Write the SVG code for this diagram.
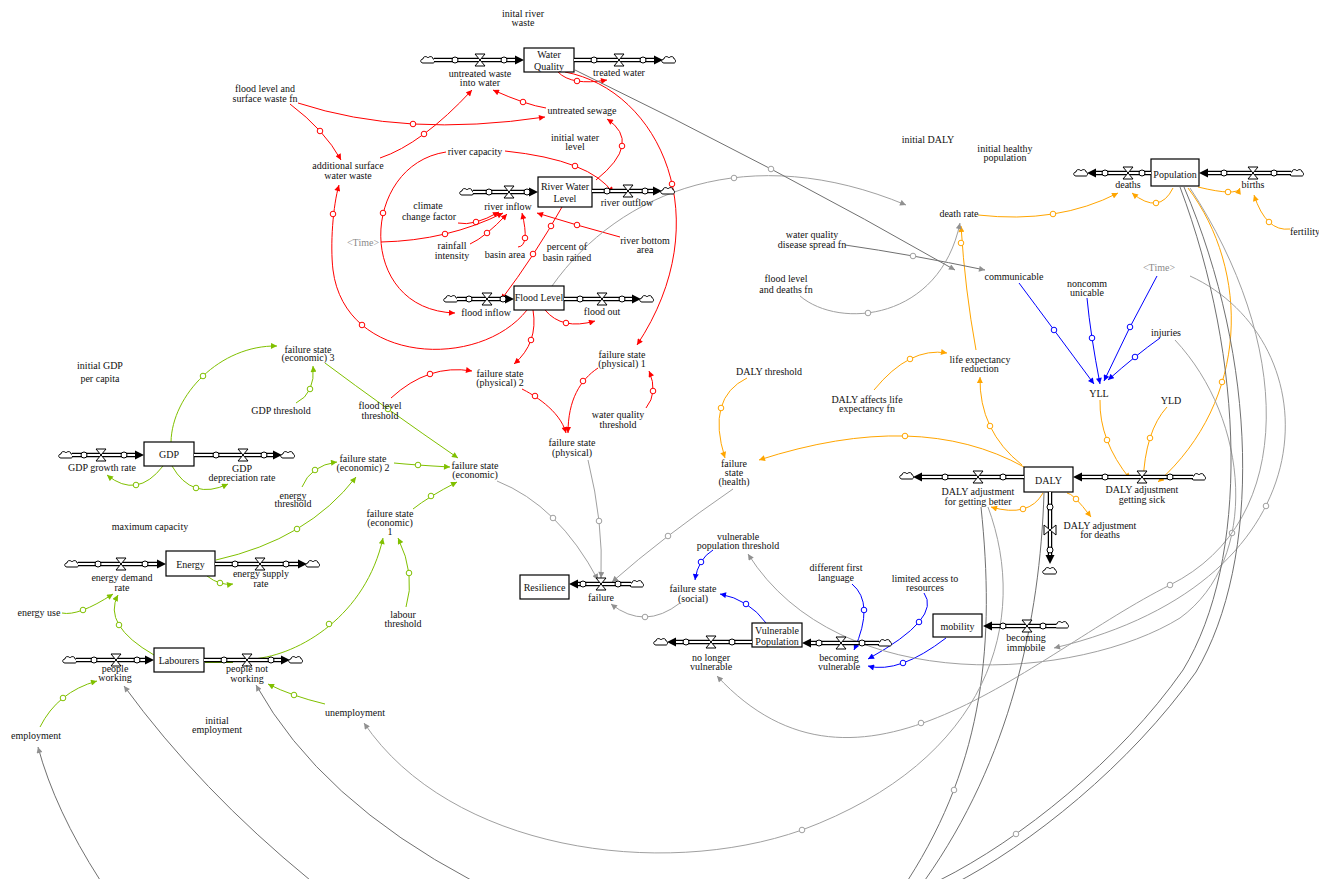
<svg xmlns="http://www.w3.org/2000/svg" width="1319" height="879" viewBox="0 0 1319 879">
<defs>
<style>
text{font-family:"Liberation Serif","Times New Roman",serif;font-size:10px;fill:#111;text-anchor:middle}
.tm{fill:#8a8a8a}
.st{fill:#fff;stroke:#000;stroke-width:1.2}
.po{fill:none;stroke:#000;stroke-width:4.5}
.pi{fill:none;stroke:#fff;stroke-width:2}
.fc{fill:#fff;stroke:#000;stroke-width:1}
.vl{fill:#fff;stroke:#000;stroke-width:1}
.cl{fill:#fff;stroke:#000;stroke-width:1}
.ah{fill:#000}
.lr,.lg,.lo,.lb,.lk,.ld,.ln{fill:none;stroke-width:1}
.lr{stroke:#f00;marker-end:url(#mr)}
.lg{stroke:#80c000;marker-end:url(#mg)}
.lo{stroke:#ffa500;marker-end:url(#mo)}
.lb{stroke:#0000ff;marker-end:url(#mb)}
.lk{stroke:#a0a0a0;marker-end:url(#mk)}
.ld{stroke:#707070;marker-end:url(#mk)}
.ln{stroke:#707070}
.connectors circle{fill:#fff;stroke-width:1}
.cr{stroke:#f00}.cg{stroke:#80c000}.co{stroke:#ffa500}.cb{stroke:#0000ff}.ck{stroke:#a0a0a0}
</style>
<marker id="mr" viewBox="0 0 10 10" refX="10" refY="5" markerWidth="7" markerHeight="6" markerUnits="userSpaceOnUse" orient="auto"><path d="M0,0L10,5L0,10z" fill="#f00"/></marker>
<marker id="mg" viewBox="0 0 10 10" refX="10" refY="5" markerWidth="7" markerHeight="6" markerUnits="userSpaceOnUse" orient="auto"><path d="M0,0L10,5L0,10z" fill="#80c000"/></marker>
<marker id="mo" viewBox="0 0 10 10" refX="10" refY="5" markerWidth="7" markerHeight="6" markerUnits="userSpaceOnUse" orient="auto"><path d="M0,0L10,5L0,10z" fill="#ffa500"/></marker>
<marker id="mb" viewBox="0 0 10 10" refX="10" refY="5" markerWidth="7" markerHeight="6" markerUnits="userSpaceOnUse" orient="auto"><path d="M0,0L10,5L0,10z" fill="#0000ff"/></marker>
<marker id="mk" viewBox="0 0 10 10" refX="10" refY="5" markerWidth="7" markerHeight="6" markerUnits="userSpaceOnUse" orient="auto"><path d="M0,0L10,5L0,10z" fill="#909090"/></marker>
<path id="cl" class="cl" d="M-5,3C-8,3 -8,-1 -5,-1C-5,-4 -1,-4 0,-2C1,-4 5,-4 5,-1C7,-1 7,3 5,3Z"/>
<path id="v" class="vl" d="M-5,-6H5L-5,6H5Z"/>
<path id="aR" class="ah" d="M0,0L-9,-4.5L-9,4.5Z"/>
<path id="aL" class="ah" d="M0,0L9,-4.5L9,4.5Z"/>
<path id="aD" class="ah" d="M0,0L-4.5,-9L4.5,-9Z"/>
</defs>
<rect width="1319" height="879" fill="#fff"/>

<g id="connectors" class="connectors">
<!-- red -->
<path class="lr" d="M290,104Q324.5,130 341,160"/><circle class="cr" cx="320" cy="131" r="2.8"/>
<path class="lr" d="M298,103Q404.5,138 545,117"/><circle class="cr" cx="413" cy="124" r="2.8"/>
<path class="lr" d="M380,158Q422,144 472,90"/><circle class="cr" cx="424" cy="134" r="2.8"/>
<path class="lr" d="M546,108Q526.5,105 493,90"/><circle class="cr" cx="523" cy="102" r="2.8"/>
<path class="lr" d="M558,72Q571.5,86 607,80"/><circle class="cr" cx="577" cy="81" r="2.8"/>
<path class="lr" d="M596,180Q642.5,142.5 607,119"/><circle class="cr" cx="622" cy="146" r="2.8"/>
<path class="lr" d="M565,72C660,90 720,220 637,345"/><circle class="cr" cx="672" cy="184" r="2.8"/>
<path class="lr" d="M505,151Q591,160 613,193"/><circle class="cr" cx="575" cy="166" r="2.8"/>
<path class="lr" d="M446,152C360,165 355,310 455,313"/><circle class="cr" cx="383" cy="213" r="2.8"/>
<path class="lr" d="M527,310C480,370 345,365 333,270C330,245 333,205 339,185"/><circle class="cr" cx="362" cy="325" r="2.8"/><circle class="cr" cx="333" cy="214" r="2.8"/>
<path class="lr" d="M458,223Q473.5,226.5 499,212"/><circle class="cr" cx="476" cy="222" r="2.8"/>
<path class="lr" d="M381,242Q448,240.5 503,213"/><circle class="cr" cx="445" cy="234" r="2.8"/>
<path class="lr" d="M470,244Q485.5,237 507,214"/><circle class="cr" cx="487" cy="233" r="2.8"/>
<path class="lr" d="M518,247Q530,246 522,213"/><circle class="cr" cx="525" cy="238" r="2.8"/>
<path class="lr" d="M620,237Q575.5,225 537,213"/><circle class="cr" cx="577" cy="225" r="2.8"/>
<path class="lr" d="M562,207Q535,255 501,300"/><circle class="cr" cx="551" cy="226" r="2.8"/><circle class="cr" cx="533" cy="254" r="2.8"/>
<path class="lr" d="M545,310Q562,330.5 595,321"/><circle class="cr" cx="566" cy="323" r="2.8"/>
<path class="lr" d="M533,310Q538.5,343 514,364"/><circle class="cr" cx="531" cy="340" r="2.8"/>
<path class="lr" d="M391,398Q428.5,363.5 472,371"/><circle class="cr" cx="430" cy="374" r="2.8"/>
<path class="lr" d="M646,408Q658.5,392.5 649,371"/><circle class="cr" cx="653" cy="391" r="2.8"/>
<path class="lr" d="M598,368C580,380 568,400 568,433"/><circle class="cr" cx="583" cy="381" r="2.8"/>
<path class="lr" d="M522,389C532,394 560,410 566,433"/><circle class="cr" cx="535" cy="396" r="2.8"/>
<!-- green -->
<path class="lg" d="M171,442C172,395 220,345 277,346"/><circle class="cg" cx="203" cy="376" r="2.8"/>
<path class="lg" d="M296,403Q315.5,393.5 313,366"/><circle class="cg" cx="310" cy="389" r="2.8"/>
<path class="lg" d="M325,363Q384.5,407.5 458,458"/><circle class="cg" cx="388" cy="409" r="2.8"/>
<path class="lg" d="M394,463Q414,465 450,467"/><circle class="cg" cx="418" cy="465" r="2.8"/>
<path class="lg" d="M302,487Q310.5,465.5 337,462"/><circle class="cg" cx="315" cy="470" r="2.8"/>
<path class="lg" d="M216,560Q308,539.5 356,477"/><circle class="cg" cx="297" cy="529" r="2.8"/>
<path class="lg" d="M413,509Q428,497 457,482"/><circle class="cg" cx="431" cy="496" r="2.8"/>
<path class="lg" d="M163,466Q137,499.5 107,475"/><circle class="cg" cx="136" cy="485" r="2.8"/>
<path class="lg" d="M172,466Q192,501 228,484"/><circle class="cg" cx="196" cy="488" r="2.8"/>
<path class="lg" d="M207,576Q220,586 233,584"/><circle class="cg" cx="220" cy="583" r="2.8"/>
<path class="lg" d="M62,613Q78.5,616.5 113,594"/><circle class="cg" cx="83" cy="610" r="2.8"/>
<path class="lg" d="M154,655Q102,625 118,595"/><circle class="cg" cx="119" cy="625" r="2.8"/>
<path class="lg" d="M406,607Q416,575 398,538"/><circle class="cg" cx="409" cy="573" r="2.8"/>
<path class="lg" d="M253,659C300,655 366,615 383,538"/><circle class="cg" cx="329" cy="624" r="2.8"/>
<path class="lg" d="M40,727Q57.5,692 97,681"/><circle class="cg" cx="63" cy="698" r="2.8"/>
<path class="lg" d="M325,704Q291.5,696 268,684"/><circle class="cg" cx="294" cy="695" r="2.8"/>
<path d="M205,662H233" stroke="#5f9400" stroke-width="2" fill="none"/>
<!-- orange -->
<path class="lo" d="M747,378Q706,398 725,458"/><circle class="co" cx="721" cy="408" r="2.8"/>
<path class="lo" d="M1024,467Q918.5,408.5 759,460"/><circle class="co" cx="905" cy="436" r="2.8"/>
<path class="lo" d="M1022,465Q979,431 980,377"/><circle class="co" cx="990" cy="426" r="2.8"/>
<path class="lo" d="M874,390Q909.5,346.5 947,353"/><circle class="co" cx="910" cy="359" r="2.8"/>
<path class="lo" d="M976,350Q965,290 961,226"/><circle class="co" cx="961" cy="243" r="2.8"/>
<path class="lo" d="M978,215Q1058,224 1118,193"/><circle class="co" cx="1053" cy="214" r="2.8"/>
<path class="lo" d="M1173,188Q1159.5,215.5 1132,193"/><circle class="co" cx="1156" cy="203" r="2.8"/>
<path class="lo" d="M1198,187Q1237,196.5 1240,188"/><circle class="co" cx="1228" cy="192" r="2.8"/>
<path class="lo" d="M1290,229Q1266,232 1254,195"/><circle class="co" cx="1269" cy="222" r="2.8"/>
<path class="lo" d="M1100,400Q1099,440.5 1130,479"/><circle class="co" cx="1107" cy="440" r="2.8"/>
<path class="lo" d="M1167,407Q1145,431 1143,483"/><circle class="co" cx="1150" cy="438" r="2.8"/>
<path class="lo" d="M1188,188C1250,270 1250,400 1158,482"/><circle class="co" cx="1222" cy="382" r="2.8"/>
<path class="lo" d="M1043,493Q1029,518 991,507"/><circle class="co" cx="1023" cy="509" r="2.8"/>
<path class="lo" d="M1067,493Q1073,493 1091,517"/><circle class="co" cx="1076" cy="499" r="2.8"/>
<!-- blue -->
<path class="lb" d="M1019,283Q1051.5,326.5 1094,384"/><circle class="cb" cx="1054" cy="330" r="2.8"/>
<path class="lb" d="M1087,298Q1090.5,335 1100,384"/><circle class="cb" cx="1092" cy="338" r="2.8"/>
<path class="lb" d="M1157,276Q1129.5,325.5 1104,381"/><circle class="cb" cx="1130" cy="327" r="2.8"/>
<path class="lb" d="M1160,338Q1136,355 1108,380"/><circle class="cb" cx="1135" cy="357" r="2.8"/>
<path class="lb" d="M713,550Q698,559 695,580"/><circle class="cb" cx="701" cy="562" r="2.8"/>
<path class="lb" d="M766,623Q749,599.5 720,594"/><circle class="cb" cx="746" cy="604" r="2.8"/>
<path class="lb" d="M852,584Q875,603 854,650"/><circle class="cb" cx="864" cy="610" r="2.8"/>
<path class="lb" d="M924,593Q942,618 868,659"/><circle class="cb" cx="919" cy="622" r="2.8"/>
<path class="lb" d="M946,638Q899,674 868,666"/><circle class="cb" cx="903" cy="663" r="2.8"/>
<!-- gray -->
<path class="lk" d="M552,286C620,190 750,140 906,205"/><circle class="ck" cx="734" cy="178" r="2.8"/>
<path class="ld" d="M575,70Q777,168 955,270"/><circle class="ck" cx="771" cy="169" r="2.8"/>
<path class="ld" d="M845,245Q911,254.5 985,270"/><circle class="ck" cx="913" cy="256" r="2.8"/>
<path class="lk" d="M800,296C840,330 940,320 960,223"/><circle class="ck" cx="868" cy="313" r="2.8"/>
<path class="lk" d="M497,481Q558.5,505.5 598,580"/><circle class="ck" cx="553" cy="518" r="2.8"/>
<path class="lk" d="M588,460Q603.5,523 601,578"/><circle class="ck" cx="599" cy="521" r="2.8"/>
<path class="lk" d="M733,489Q663,537 612,582"/><circle class="ck" cx="668" cy="536" r="2.8"/>
<path class="lk" d="M680,603Q644.5,630.5 611,604"/><circle class="ck" cx="645" cy="617" r="2.8"/>
<path class="lk" d="M1175,340C1250,420 1260,560 1180,618C1080,680 840,700 748,554"/><circle class="ck" cx="1232" cy="533" r="2.8"/>
<path class="lk" d="M1190,276C1330,340 1340,580 1054,648"/><circle class="ck" cx="1266" cy="506" r="2.8"/>
<path class="lk" d="M1190,188C1290,340 1300,520 1170,585C1030,655 860,830 717,676"/><circle class="ck" cx="1170" cy="585" r="2.8"/><circle class="ck" cx="921" cy="723" r="2.8"/>
<path class="ld" d="M981,507C995,640 985,760 908,880C700,1010 150,1000 100,880Q55,810 38,747"/><circle class="ck" cx="954" cy="790" r="2.8"/>
<path class="lk" d="M988,507C1030,620 990,760 802,830C660,880 450,850 364,723"/><circle class="ck" cx="802" cy="830" r="2.8"/>
<path class="ld" d="M1044,493C1040,620 1010,760 925,880C750,1000 420,990 310,880Q200,790 124,686"/>
<path class="ld" d="M1180,187C1245,360 1250,560 1183,670C1120,760 1020,840 940,880C800,960 560,990 471,880Q320,800 256,685"/><circle class="ck" cx="1016" cy="834" r="2.8"/>
<path class="ln" d="M1184,187C1258,360 1262,560 1196,672C1130,765 1030,845 952,885"/>
</g>

<!-- stocks -->
<g id="stock-water-quality"><rect class="st" x="524" y="48" width="50" height="24"/><text x="549" y="58">Water</text><text x="549" y="70">Quality</text></g>
<g id="stock-river-water-level"><rect class="st" x="538" y="177" width="54" height="30"/><text x="565" y="190">River Water</text><text x="565" y="202">Level</text></g>
<g id="stock-flood-level"><rect class="st" x="514" y="286" width="50" height="24"/><text x="539" y="301">Flood Level</text></g>
<g id="stock-gdp"><rect class="st" x="144" y="442" width="50" height="24"/><text x="169" y="458">GDP</text></g>
<g id="stock-energy"><rect class="st" x="166" y="551" width="49" height="25"/><text x="190.5" y="567.5">Energy</text></g>
<g id="stock-labourers"><rect class="st" x="154" y="648" width="50" height="24"/><text x="179" y="664">Labourers</text></g>
<g id="stock-resilience"><rect class="st" x="520" y="575" width="49" height="24"/><text x="544.5" y="591">Resilience</text></g>
<g id="stock-vulnerable-population"><rect class="st" x="752" y="623" width="50" height="24"/><text x="777" y="633.5">Vulnerable</text><text x="777" y="645">Population</text></g>
<g id="stock-mobility"><rect class="st" x="933" y="614" width="49" height="23"/><text x="957.5" y="629.5">mobility</text></g>
<g id="stock-daly"><rect class="st" x="1024" y="467" width="49" height="25"/><text x="1048.5" y="483.5">DALY</text></g>
<g id="stock-population"><rect class="st" x="1151" y="159" width="48" height="27"/><text x="1175" y="177.5">Population</text></g>

<!-- flows -->
<g id="flow-untreated-waste"><use href="#cl" x="428" y="60"/><path class="po" d="M434,60H518"/><path class="pi" d="M434,60H518"/><use href="#aR" x="524" y="60"/><circle class="fc" cx="455" cy="60" r="3"/><circle class="fc" cx="504" cy="60" r="3"/><use href="#v" x="480" y="60"/><text x="480" y="76.5">untreated waste</text><text x="480" y="86">into water</text></g>
<g id="flow-treated-water"><path class="po" d="M574,60H657"/><path class="pi" d="M574,60H657"/><use href="#aR" x="663" y="60"/><use href="#cl" x="669" y="60"/><circle class="fc" cx="594" cy="60" r="3"/><circle class="fc" cx="643" cy="60" r="3"/><use href="#v" x="619" y="60"/><text x="619" y="76">treated water</text></g>
<g id="flow-river-inflow"><use href="#cl" x="467" y="192"/><path class="po" d="M473,192H532"/><path class="pi" d="M473,192H532"/><use href="#aR" x="538" y="192"/><circle class="fc" cx="489" cy="192" r="3"/><circle class="fc" cx="527" cy="192" r="3"/><use href="#v" x="509" y="192"/><text x="508" y="210">river inflow</text></g>
<g id="flow-river-outflow"><path class="po" d="M592,191H656"/><path class="pi" d="M592,191H656"/><use href="#aR" x="662" y="191"/><use href="#cl" x="668" y="191"/><circle class="fc" cx="607" cy="191" r="3"/><circle class="fc" cx="645" cy="191" r="3"/><use href="#v" x="628" y="191"/><text x="627" y="206">river outflow</text></g>
<g id="flow-flood-inflow"><use href="#cl" x="451" y="299"/><path class="po" d="M457,299H508"/><path class="pi" d="M457,299H508"/><use href="#aR" x="514" y="299"/><circle class="fc" cx="469" cy="299" r="3"/><circle class="fc" cx="503" cy="299" r="3"/><use href="#v" x="487" y="299"/><text x="486" y="316">flood inflow</text></g>
<g id="flow-flood-out"><path class="po" d="M564,299H635"/><path class="pi" d="M564,299H635"/><use href="#aR" x="641" y="299"/><use href="#cl" x="647" y="299"/><circle class="fc" cx="580" cy="299" r="3"/><circle class="fc" cx="622" cy="299" r="3"/><use href="#v" x="602" y="299"/><text x="602" y="315">flood out</text></g>
<g id="flow-gdp-growth"><use href="#cl" x="66" y="455"/><path class="po" d="M72,455H138"/><path class="pi" d="M72,455H138"/><use href="#aR" x="144" y="455"/><circle class="fc" cx="84" cy="455" r="3"/><circle class="fc" cx="124" cy="455" r="3"/><use href="#v" x="101" y="455"/><text x="102" y="470.5">GDP growth rate</text></g>
<g id="flow-gdp-depreciation"><path class="po" d="M194,455H276"/><path class="pi" d="M194,455H276"/><use href="#aR" x="282" y="455"/><use href="#cl" x="288" y="455"/><circle class="fc" cx="216" cy="455" r="3"/><circle class="fc" cx="264" cy="455" r="3"/><use href="#v" x="243" y="455"/><text x="242" y="471.5">GDP</text><text x="242" y="481">depreciation rate</text></g>
<g id="flow-energy-demand"><use href="#cl" x="72" y="564"/><path class="po" d="M78,564H160"/><path class="pi" d="M78,564H160"/><use href="#aR" x="166" y="564"/><circle class="fc" cx="98" cy="564" r="3"/><circle class="fc" cx="145" cy="564" r="3"/><use href="#v" x="121" y="564"/><text x="122" y="580.5">energy demand</text><text x="122" y="590.5">rate</text></g>
<g id="flow-energy-supply"><path class="po" d="M215,564H301"/><path class="pi" d="M215,564H301"/><use href="#aR" x="307" y="564"/><use href="#cl" x="313" y="564"/><circle class="fc" cx="235" cy="564" r="3"/><circle class="fc" cx="286" cy="564" r="3"/><use href="#v" x="260" y="564"/><text x="261" y="576.5">energy supply</text><text x="261" y="586.5">rate</text></g>
<g id="flow-people-working"><use href="#cl" x="70" y="660"/><path class="po" d="M76,660H148"/><path class="pi" d="M76,660H148"/><use href="#aR" x="154" y="660"/><circle class="fc" cx="94" cy="660" r="3"/><circle class="fc" cx="137" cy="660" r="3"/><use href="#v" x="116" y="660"/><text x="115" y="671.5">people</text><text x="115" y="680.5">working</text></g>
<g id="flow-people-not-working"><path class="po" d="M204,660H284"/><path class="pi" d="M204,660H284"/><use href="#aR" x="290" y="660"/><use href="#cl" x="296" y="660"/><circle class="fc" cx="224" cy="660" r="3"/><circle class="fc" cx="271" cy="660" r="3"/><use href="#v" x="247" y="660"/><text x="247" y="671.5">people not</text><text x="247" y="681.5">working</text></g>
<g id="flow-failure"><use href="#cl" x="637" y="584"/><path class="po" d="M631,584H575"/><path class="pi" d="M631,584H575"/><use href="#aL" x="569" y="584"/><circle class="fc" cx="618" cy="584" r="3"/><circle class="fc" cx="583" cy="584" r="3"/><use href="#v" x="601" y="584"/><text x="601" y="600.5">failure</text></g>
<g id="flow-no-longer-vulnerable"><path class="po" d="M752,642H673"/><path class="pi" d="M752,642H673"/><use href="#aL" x="667" y="642"/><use href="#cl" x="661" y="642"/><circle class="fc" cx="732" cy="642" r="3"/><circle class="fc" cx="686" cy="642" r="3"/><use href="#v" x="711" y="642"/><text x="711" y="660.5">no longer</text><text x="711" y="670">vulnerable</text></g>
<g id="flow-becoming-vulnerable"><use href="#cl" x="885" y="643"/><path class="po" d="M879,643H808"/><path class="pi" d="M879,643H808"/><use href="#aL" x="802" y="643"/><circle class="fc" cx="862" cy="643" r="3"/><circle class="fc" cx="819" cy="643" r="3"/><use href="#v" x="841" y="643"/><text x="839" y="660.5">becoming</text><text x="839" y="670">vulnerable</text></g>
<g id="flow-becoming-immobile"><use href="#cl" x="1062" y="625"/><path class="po" d="M1056,626H989"/><path class="pi" d="M1056,626H989"/><use href="#aL" x="983" y="626"/><circle class="fc" cx="1043" cy="626" r="3"/><circle class="fc" cx="1003" cy="626" r="3"/><use href="#v" x="1027" y="626"/><text x="1026" y="640.5">becoming</text><text x="1026" y="650.5">immobile</text></g>
<g id="flow-daly-better"><path class="po" d="M1024,477H919"/><path class="pi" d="M1024,477H919"/><use href="#aL" x="913" y="477"/><use href="#cl" x="907" y="476"/><circle class="fc" cx="1003" cy="477" r="3"/><circle class="fc" cx="945" cy="477" r="3"/><use href="#v" x="978" y="477"/><text x="978" y="494.5">DALY adjustment</text><text x="978" y="504.5">for getting better</text></g>
<g id="flow-daly-sick"><use href="#cl" x="1199" y="477"/><path class="po" d="M1193,477H1079"/><path class="pi" d="M1193,477H1079"/><use href="#aL" x="1073" y="477"/><circle class="fc" cx="1170" cy="477" r="3"/><circle class="fc" cx="1105" cy="477" r="3"/><use href="#v" x="1142" y="477"/><text x="1142" y="492.5">DALY adjustment</text><text x="1142" y="502.5">getting sick</text></g>
<g id="flow-daly-deaths"><path class="po" d="M1050,492V558"/><path class="pi" d="M1050,492V558"/><use href="#aD" x="1050" y="564"/><use href="#cl" x="1050" y="571"/><circle class="fc" cx="1050" cy="507" r="3"/><circle class="fc" cx="1050" cy="550" r="3"/><use href="#v" transform="translate(1050,530) rotate(90)"/><text x="1100" y="528.5">DALY adjustment</text><text x="1100" y="537.5">for deaths</text></g>
<g id="flow-deaths"><path class="po" d="M1151,173H1093"/><path class="pi" d="M1151,173H1093"/><use href="#aL" x="1087" y="173"/><use href="#cl" x="1081" y="173"/><circle class="fc" cx="1142" cy="173" r="3"/><circle class="fc" cx="1105" cy="173" r="3"/><use href="#v" x="1128" y="173"/><text x="1128" y="188">deaths</text></g>
<g id="flow-births"><use href="#cl" x="1297" y="173"/><path class="po" d="M1291,173H1205"/><path class="pi" d="M1291,173H1205"/><use href="#aL" x="1199" y="173"/><circle class="fc" cx="1274" cy="173" r="3"/><circle class="fc" cx="1224" cy="173" r="3"/><use href="#v" x="1253" y="173"/><text x="1253" y="188">births</text></g>

<!-- auxiliaries -->
<g id="v-initial-river-waste"><text x="523" y="16.5">inital river</text><text x="523" y="25.5">waste</text></g>
<g id="v-flood-surface-fn"><text x="265" y="92">flood level and</text><text x="265" y="102">surface waste fn</text></g>
<g id="v-untreated-sewage"><text x="582" y="113.5">untreated sewage</text></g>
<g id="v-initial-water-level"><text x="575" y="140.5">initial water</text><text x="575" y="150">level</text></g>
<g id="v-river-capacity"><text x="475" y="154.5">river capacity</text></g>
<g id="v-additional-surface"><text x="348" y="169">additional surface</text><text x="348" y="178.5">water waste</text></g>
<g id="v-climate"><text x="428" y="209">climate</text><text x="429" y="219.5">change factor</text></g>
<g id="v-time-1"><text class="tm" x="363" y="246">&lt;Time&gt;</text></g>
<g id="v-rainfall"><text x="452" y="248.5">rainfall</text><text x="452" y="259">intensity</text></g>
<g id="v-basin-area"><text x="505" y="257.5">basin area</text></g>
<g id="v-percent-rained"><text x="567" y="249.5">percent of</text><text x="567" y="260.5">basin rained</text></g>
<g id="v-river-bottom"><text x="645" y="243.5">river bottom</text><text x="645" y="253">area</text></g>
<g id="v-initial-gdp"><text x="100" y="369">initial GDP</text><text x="100" y="382">per capita</text></g>
<g id="v-fs-econ3"><text x="308" y="352.5">failure state</text><text x="308" y="361">(economic) 3</text></g>
<g id="v-gdp-threshold"><text x="281" y="414">GDP threshold</text></g>
<g id="v-flood-threshold"><text x="380" y="409">flood level</text><text x="380" y="419">threshold</text></g>
<g id="v-fs-phys2"><text x="500" y="377">failure state</text><text x="500" y="386">(physical) 2</text></g>
<g id="v-fs-phys1"><text x="622" y="357.5">failure state</text><text x="622" y="367">(physical) 1</text></g>
<g id="v-wq-threshold"><text x="618" y="418">water quality</text><text x="618" y="427.5">threshold</text></g>
<g id="v-fs-phys"><text x="572" y="445.5">failure state</text><text x="572" y="455.5">(physical)</text></g>
<g id="v-daly-threshold"><text x="769" y="375">DALY threshold</text></g>
<g id="v-fs-econ"><text x="475" y="468.5">failure state</text><text x="475" y="477.5">(economic)</text></g>
<g id="v-fs-econ2"><text x="363" y="461.5">failure state</text><text x="363" y="471">(economic) 2</text></g>
<g id="v-energy-threshold"><text x="293" y="498.5">energy</text><text x="293" y="507">threshold</text></g>
<g id="v-fs-econ1"><text x="390" y="517">failure state</text><text x="390" y="526">(economic)</text><text x="390" y="535">1</text></g>
<g id="v-max-capacity"><text x="150" y="529.5">maximum capacity</text></g>
<g id="v-energy-use"><text x="39" y="616">energy use</text></g>
<g id="v-labour-threshold"><text x="403" y="617.5">labour</text><text x="403" y="627">threshold</text></g>
<g id="v-unemployment"><text x="355" y="715.5">unemployment</text></g>
<g id="v-initial-employment"><text x="217" y="723.5">initial</text><text x="217" y="732.5">employment</text></g>
<g id="v-employment"><text x="36" y="738.5">employment</text></g>
<g id="v-vp-threshold"><text x="738" y="539.5">vulnerable</text><text x="738" y="548.5">population threshold</text></g>
<g id="v-fs-social"><text x="693" y="591.5">failure state</text><text x="693" y="601.5">(social)</text></g>
<g id="v-first-language"><text x="836" y="571">different first</text><text x="836" y="580.5">language</text></g>
<g id="v-limited-access"><text x="925" y="581.5">limited access to</text><text x="925" y="590.5">resources</text></g>
<g id="v-fs-health"><text x="734" y="467">failure</text><text x="734" y="476">state</text><text x="734" y="485">(health)</text></g>
<g id="v-life-exp"><text x="980" y="362.5">life expectancy</text><text x="980" y="371.5">reduction</text></g>
<g id="v-daly-affects"><text x="867" y="402.5">DALY affects life</text><text x="867" y="412">expectancy fn</text></g>
<g id="v-yll"><text x="1099" y="397">YLL</text></g>
<g id="v-yld"><text x="1171" y="404">YLD</text></g>
<g id="v-injuries"><text x="1166" y="336">injuries</text></g>
<g id="v-time-2"><text class="tm" x="1159" y="271">&lt;Time&gt;</text></g>
<g id="v-noncomm"><text x="1087" y="286.5">noncomm</text><text x="1087" y="296">unicable</text></g>
<g id="v-communicable"><text x="1014" y="279.5">communicable</text></g>
<g id="v-death-rate"><text x="959" y="216.5">death rate</text></g>
<g id="v-wq-disease"><text x="812" y="237.5">water quality</text><text x="812" y="247.5">disease spread fn</text></g>
<g id="v-flood-deaths"><text x="786" y="282">flood level</text><text x="786" y="292.5">and deaths fn</text></g>
<g id="v-initial-daly"><text x="928" y="142.5">initial DALY</text></g>
<g id="v-initial-healthy"><text x="1005" y="151.5">initial healthy</text><text x="1005" y="160.5">population</text></g>
<g id="v-fertility"><text x="1290" y="235" style="text-anchor:start">fertility</text></g>
</svg>
